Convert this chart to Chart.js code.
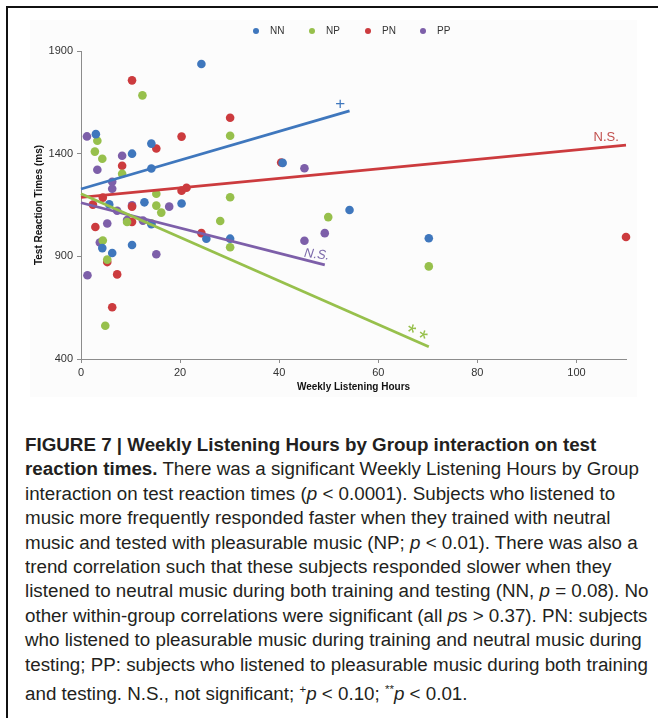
<!DOCTYPE html>
<html><head><meta charset="utf-8">
<script src="https://cdn.jsdelivr.net/npm/chart.js@4.4.1/dist/chart.umd.min.js"></script>
<style>
html,body{margin:0;padding:0;background:#fff;}
body{width:658px;height:718px;position:relative;overflow:hidden;font-family:"Liberation Sans",Arial,sans-serif;}
#bg{position:absolute;left:30px;top:20px;width:607px;height:377px;background:#fcfcfc;}
#frameTop{position:absolute;left:6px;top:6px;width:652px;height:2px;background:#111;}
#frameLeft{position:absolute;left:6px;top:6px;width:2px;height:712px;background:#111;}
#c{position:absolute;left:0;top:0;}
#caption{position:absolute;left:25px;top:433px;color:#231f20;font-family:"Liberation Sans Narrow","Liberation Sans",sans-serif;font-size:18px;}
.ln{height:24.4px;line-height:24.4px;white-space:nowrap;transform-origin:0 50%;width:max-content;}
</style></head>
<body>
<div id="bg"></div>
<div id="frameTop"></div>
<div id="frameLeft"></div>
<canvas id="c" width="658" height="400"></canvas>
<div id="caption">
<div class="ln"><b>FIGURE 7 | Weekly Listening Hours by Group interaction on test</b></div>
<div class="ln"><b>reaction times.</b> There was a significant Weekly Listening Hours by Group</div>
<div class="ln">interaction on test reaction times (<i>p</i> &lt; 0.0001). Subjects who listened to</div>
<div class="ln">music more frequently responded faster when they trained with neutral</div>
<div class="ln">music and tested with pleasurable music (NP; <i>p</i> &lt; 0.01). There was also a</div>
<div class="ln">trend correlation such that these subjects responded slower when they</div>
<div class="ln">listened to neutral music during both training and testing (NN, <i>p</i> = 0.08). No</div>
<div class="ln">other within-group correlations were significant (all <i>p</i>s &gt; 0.37). PN: subjects</div>
<div class="ln">who listened to pleasurable music during training and neutral music during</div>
<div class="ln">testing; PP: subjects who listened to pleasurable music during both training</div>
<div class="ln">and testing. N.S., not significant; <sup style="font-size:11px">+</sup><i>p</i> &lt; 0.10; <sup style="font-size:11px">**</sup><i>p</i> &lt; 0.01.</div>
</div>
<script>
// ---------- data ----------
const categories = ['NN', 'NP', 'PN', 'PP'];

const nnHours = [3, 10.3, 14.2, 14.2, 24.3, 40.7, 5.7, 12.8, 20.3, 4.3, 6.3, 10.3, 14.2, 25.3, 30.1, 54.2, 70.2];
const nnRT    = [1495, 1400, 1449, 1328, 1837, 1355, 1153, 1163, 1157, 940, 916, 955, 1056, 986, 986, 1126, 988];

const npHours = [12.4, 30.1, 3.3, 2.8, 4.3, 8.3, 15.2, 30.1, 15.2, 16.2, 28.1, 30.1, 14.2, 9.3, 4.4, 5.3, 4.9, 49.9, 70.2];
const npRT    = [1684, 1487, 1463, 1410, 1375, 1302, 1205, 1188, 1147, 1113, 1072, 944, 1061, 1067, 977, 884, 562, 1091, 851];

const pnHours = [10.3, 30.1, 20.3, 15.2, 8.3, 40.4, 4.4, 2.4, 20.3, 21.3, 10.3, 10.3, 2.9, 24.3, 5.3, 7.3, 6.3, 110];
const pnRT    = [1757, 1575, 1483, 1425, 1341, 1357, 1186, 1152, 1220, 1234, 1142, 1068, 1043, 1013, 872, 812, 652, 994];

const ppHours = [1.2, 8.3, 3.3, 6.3, 6.3, 45.1, 10.3, 7.3, 17.8, 9.3, 12.5, 5.3, 3.8, 15.2, 1.3, 45.1, 49.2];
const ppRT    = [1484, 1390, 1322, 1263, 1229, 1329, 1148, 1122, 1142, 1077, 1074, 1060, 967, 910, 808, 976, 1013];

// fitted trend lines (end points)
const nnTrendHours = [0, 54.2];  const nnTrendRT = [1228, 1608];
const npTrendHours = [0, 70.2];  const npTrendRT = [1205, 460];
const pnTrendHours = [0, 110];   const pnTrendRT = [1187, 1442];
const ppTrendHours = [0, 49.2];  const ppTrendRT = [1161, 858];

const xTicks = [0, 20, 40, 60, 80, 100];
const yTicks = [400, 900, 1400, 1900];

// ---------- styles ----------
const colors = {NN: '#3f77bd', NP: '#97c04c', PN: '#cc3b3e', PP: '#7d5fa9'};
const FONT = '"Liberation Sans", Arial, sans-serif';

function pts(xs, ys) { return xs.map((x, i) => ({x: x, y: ys[i]})); }

const groups = [
  {name: 'NN', xs: nnHours, ys: nnRT, tx: nnTrendHours, ty: nnTrendRT},
  {name: 'NP', xs: npHours, ys: npRT, tx: npTrendHours, ty: npTrendRT},
  {name: 'PN', xs: pnHours, ys: pnRT, tx: pnTrendHours, ty: pnTrendRT},
  {name: 'PP', xs: ppHours, ys: ppRT, tx: ppTrendHours, ty: ppTrendRT}
];

const datasets = [];
groups.forEach(g => {
  datasets.push({
    type: 'line', label: g.name + ' trend',
    data: pts(g.tx, g.ty), borderColor: colors[g.name], borderWidth: 2.8,
    pointRadius: 0, fill: false, tension: 0, clip: false
  });
});
groups.forEach(g => {
  datasets.push({
    type: 'scatter', label: g.name,
    data: pts(g.xs, g.ys), backgroundColor: colors[g.name], borderColor: colors[g.name],
    borderWidth: 0, pointRadius: 4.3, clip: false
  });
});

// significance labels, anchored in data coordinates
const sigLabels = [
  {text: '+',    x: 52.3, y: 1642, color: colors.NN, font: '17px ' + FONT, rot: 0, dy: 0},
  {text: 'N.S.', x: 106,  y: 1478, color: '#c2504e', font: '13px ' + FONT, rot: 0, dy: 0},
  {text: 'N.S.', x: 47.6, y: 908,  color: '#7d6bab', font: 'italic 13px ' + FONT, rot: 0.12, dy: 0},
  {text: '*',    x: 66.8, y: 548,  color: colors.NP, font: '23px ' + FONT, rot: 0.3, dy: 5},
  {text: '*',    x: 69.1, y: 518,  color: colors.NP, font: '23px ' + FONT, rot: 0.3, dy: 5}
];

const legendPlugin = {
  id: 'customLegend',
  afterDraw(chart) {
    const c = chart.ctx;
    const xs = [256, 312, 368, 423];
    c.save();
    c.font = '10px ' + FONT;
    c.textBaseline = 'middle';
    categories.forEach((name, i) => {
      c.fillStyle = colors[name];
      c.beginPath(); c.arc(xs[i], 31, 3, 0, Math.PI * 2); c.fill();
      c.fillStyle = '#333';
      c.fillText(name, xs[i] + 14, 31.5);
    });
    c.restore();
  }
};

const labelPlugin = {
  id: 'sigLabels',
  afterDraw(chart) {
    const c = chart.ctx, sx = chart.scales.x, sy = chart.scales.y;
    c.save();
    sigLabels.forEach(l => {
      const px = sx.getPixelForValue(l.x), py = sy.getPixelForValue(l.y);
      c.save();
      c.translate(px, py);
      c.rotate(l.rot);
      c.font = l.font;
      c.fillStyle = l.color;
      c.textAlign = 'center';
      c.textBaseline = 'middle';
      c.fillText(l.text, 0, l.dy);
      c.restore();
    });
    c.restore();
  }
};

const axisColor = '#8c8c8c';
new Chart(document.getElementById('c'), {
  type: 'scatter',
  data: {datasets: datasets},
  options: {
    responsive: false, animation: false, devicePixelRatio: 1,
    layout: {padding: {top: 51, right: 32, left: 0, bottom: 0}},
    plugins: {legend: {display: false}, tooltip: {enabled: false}},
    scales: {
      x: {
        type: 'linear', min: 0, max: 110,
        afterBuildTicks: s => { s.ticks = xTicks.map(v => ({value: v})); },
        afterFit: s => { s.height = 41; },
        grid: {drawOnChartArea: false, drawTicks: true, tickLength: 4, color: axisColor},
        border: {color: axisColor, width: 1},
        ticks: {font: {family: FONT, size: 11}, color: '#333', padding: 3, maxRotation: 0,
                callback: v => String(v)},
        title: {display: true, text: 'Weekly Listening Hours', color: '#111',
                font: {family: FONT, size: 10, weight: 'bold'}, padding: {top: 0, bottom: 6.6}}
      },
      y: {
        type: 'linear', min: 400, max: 1900,
        afterBuildTicks: s => { s.ticks = yTicks.map(v => ({value: v})); },
        afterFit: s => { s.width = 81; },
        grid: {drawOnChartArea: false, drawTicks: true, tickLength: 4, color: axisColor},
        border: {color: axisColor, width: 1},
        ticks: {font: {family: FONT, size: 11}, color: '#333', padding: 4,
                callback: v => String(v)},
        title: {display: true, text: 'Test Reaction Times (ms)', color: '#111',
                font: {family: FONT, size: 10, weight: 'bold'}, padding: {top: 33.6, bottom: 0}}
      }
    }
  },
  plugins: [legendPlugin, labelPlugin]
});

// ---------- caption line fitting ----------
const targetWidths = [562, 607, 594, 591, 607, 588, 623, 623, 615, 623, 453];
function fitCaption() {
  const lines = Array.from(document.querySelectorAll('#caption .ln'));
  lines.forEach(l => l.style.transform = 'none');
  const ratios = lines.map((l, i) => targetWidths[i] / l.getBoundingClientRect().width).sort((a, b) => a - b);
  const f = ratios[Math.floor(ratios.length / 2)];
  lines.forEach(l => l.style.transform = 'scaleX(' + f + ')');
}
fitCaption();
if (document.fonts && document.fonts.ready) document.fonts.ready.then(fitCaption);
</script>
</body></html>
